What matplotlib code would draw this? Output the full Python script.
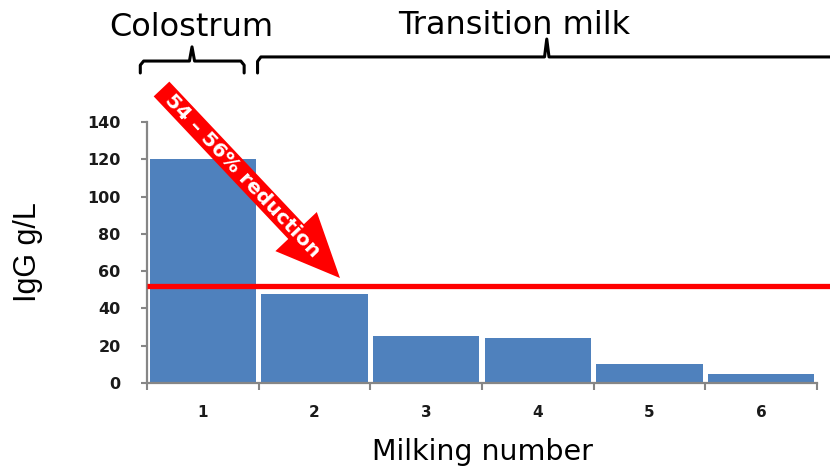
import numpy as np
import matplotlib
matplotlib.use('Agg')
import matplotlib.pyplot as plt

# data
milking = [1, 2, 3, 4, 5, 6]
igg = [120, 48, 25, 24, 10, 5]
threshold = 52
yticks = [0, 20, 40, 60, 80, 100, 120, 140]

bar_color = '#4F81BD'
spine_color = '#868686'

fig = plt.figure(figsize=(8.3, 4.66), dpi=100)
ax = fig.add_axes([147/830, 1-383/466, 670/830, 261/466])

ax.bar(milking, igg, width=0.95, color=bar_color, zorder=2)
ax.set_xlim(0.5, 6.5)
ax.set_ylim(0, 140)

# threshold line runs off the right edge
ax.plot([0.5, 6.9], [threshold, threshold], color='#FF0000', lw=3.8,
        clip_on=False, zorder=3, solid_capstyle='butt')

# spines / ticks
for s in ['top', 'right']:
    ax.spines[s].set_visible(False)
for s in ['left', 'bottom']:
    ax.spines[s].set_color(spine_color)
    ax.spines[s].set_linewidth(1.6)

ax.set_yticks(yticks)
ax.set_yticklabels([str(v) for v in yticks], fontweight='bold', fontsize=11.5,
                   color='#1a1a1a')
ax.tick_params(axis='y', length=4, width=1.5, color=spine_color, pad=15)

ax.set_xticks(np.arange(0.5, 7, 1))
ax.set_xticklabels([])
ax.tick_params(axis='x', which='major', length=5, width=1.5, color=spine_color)
ax.set_xticks(milking, minor=True)
ax.set_xticklabels([str(m) for m in milking], minor=True, fontweight='bold',
                   fontsize=11, color='#1a1a1a')
ax.tick_params(axis='x', which='minor', length=0, pad=16)

ax.set_ylabel('IgG g/L', family='Liberation Sans', fontsize=22, labelpad=32)
ax.set_xlabel('Milking number', fontsize=20.5, labelpad=12.5)

# big red arrow
ax.annotate('', xy=(2.228, 56.3), xytext=(0.63, 157.7),
            arrowprops=dict(arrowstyle='simple,head_length=4.6,head_width=4.1,tail_width=1.55',
                            mutation_scale=10, fc='#FF0000', ec='none', lw=0,
                            shrinkA=0, shrinkB=0),
            annotation_clip=False, zorder=4)
ax.text(1.35, 111.2, '54 – 56% reduction', rotation=-46.6, rotation_mode='anchor',
        ha='center', va='center', color='white', fontweight='bold', fontsize=14.5,
        zorder=5, clip_on=False)

# brackets above the plot
bk = dict(color='black', lw=2.2, clip_on=False, solid_joinstyle='round',
          solid_capstyle='round')
ax.plot([0.44, 0.44, 0.47, 0.88, 0.903, 0.926, 1.34, 1.37, 1.37],
        [166.3, 170.5, 172.7, 172.7, 180.3, 172.7, 172.7, 170.5, 166.3], **bk)
ax.plot([1.49, 1.49, 1.52, 4.06, 4.08, 4.10, 6.9],
        [166.3, 172.5, 174.9, 174.9, 184.5, 174.9, 174.9], **bk)

fig.text(191/830, 1-27/466, 'Colostrum', fontsize=23, ha='center', va='center')
fig.text(514/830, 1-26/466, 'Transition milk', fontsize=23, ha='center', va='center')

fig.savefig('out.png', dpi=100)
